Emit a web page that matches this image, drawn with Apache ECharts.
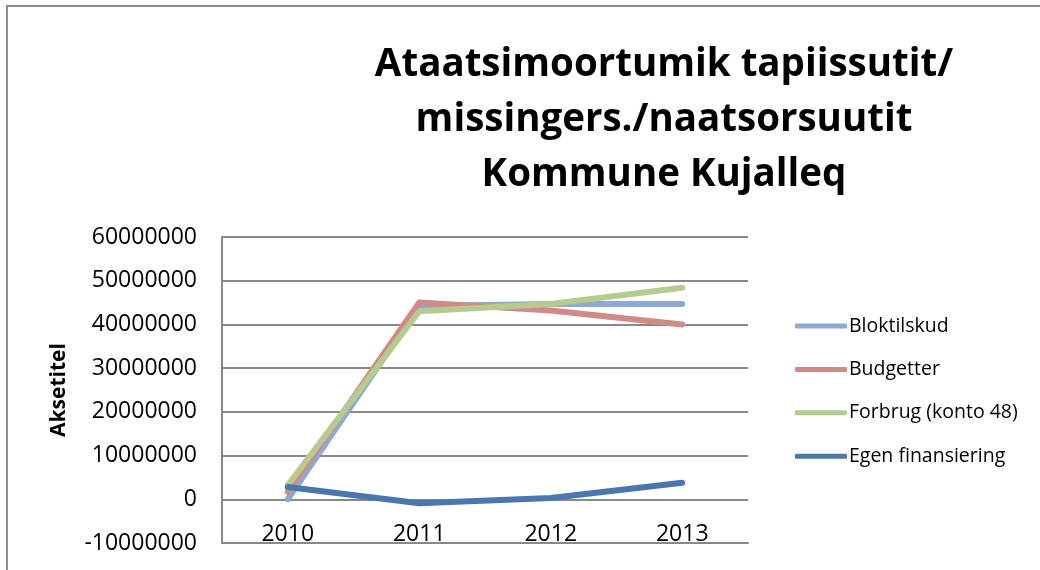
<!DOCTYPE html>
<html>
<head>
<meta charset="utf-8">
<script src="https://cdn.jsdelivr.net/npm/echarts@6/dist/echarts.min.js"></script>
<style>
  html, body { margin: 0; padding: 0; background: #ffffff; }
  #chart { width: 1040px; height: 570px; }
</style>
</head>
<body>
<div id="chart"></div>
<script>
var years = ['2010', '2011', '2012', '2013'];
var bloktilskud = [0, 44200000, 44700000, 44700000];
var budgetter = [1700000, 45000000, 43200000, 40000000];
var forbrug = [3200000, 43000000, 44700000, 48400000];
var egenFinansiering = [2800000, -900000, 300000, 3800000];
var yTicks = { min: -10000000, max: 60000000, step: 10000000 };

var chart = echarts.init(document.getElementById('chart'));

function makeLine(name, data, color) {
    return {
        name: name,
        type: 'line',
        data: data,
        symbol: 'none',
        lineStyle: { width: 6, color: color, cap: 'round', join: 'round' },
        itemStyle: { color: color }
    };
}

var option = {
    backgroundColor: '#ffffff',
    animation: false,
    textStyle: { fontFamily: 'Open Sans' },
    title: {
        text: 'Ataatsimoortumik tapiissutit/\nmissingers./naatsorsuutit\nKommune Kujalleq',
        left: 659,
        top: 33,
        textAlign: 'center',
        textStyle: {
            fontFamily: 'Open Sans',
            fontWeight: 'bold',
            fontSize: 38.5,
            lineHeight: 55,
            color: '#000000'
        }
    },
    graphic: [{
        type: 'rect',
        shape: { x: 7, y: 6, width: 1100, height: 600 },
        style: { fill: 'none', stroke: '#8c8c8c', lineWidth: 2 },
        silent: true
    }],
    legend: {
        orient: 'vertical',
        left: 790,
        top: 311,
        itemWidth: 52,
        itemHeight: 5,
        itemGap: 23.4,
        icon: 'roundRect',
        textStyle: { fontSize: 19.5, color: '#000000', lineHeight: 20, padding: [0, 0, 0, -3] },
        data: ['Bloktilskud', 'Budgetter', 'Forbrug (konto 48)', 'Egen finansiering']
    },
    grid: {
        left: 222,
        right: 292,
        top: 237,
        bottom: 27
    },
    xAxis: {
        type: 'category',
        data: years,
        boundaryGap: true,
        axisLine: { onZero: false, lineStyle: { color: '#888888', width: 2 } },
        axisTick: { show: false },
        axisLabel: { fontSize: 23, color: '#000000', margin: -20 }
    },
    yAxis: {
        type: 'value',
        min: yTicks.min,
        max: yTicks.max,
        interval: yTicks.step,
        name: 'Aksetitel',
        nameLocation: 'middle',
        nameGap: 152,
        nameTextStyle: { fontSize: 21, fontWeight: 'bold', color: '#000000' },
        axisLine: { show: true, lineStyle: { color: '#888888', width: 2 } },
        axisTick: { show: false },
        splitLine: { lineStyle: { color: '#888888', width: 2 } },
        axisLabel: {
            fontSize: 23,
            color: '#000000',
            margin: 25,
            formatter: function (v) { return String(v); }
        }
    },
    series: [
        makeLine('Bloktilskud', bloktilskud, '#8EA9D4'),
        makeLine('Budgetter', budgetter, '#D28A88'),
        makeLine('Forbrug (konto 48)', forbrug, '#B5CC8E'),
        makeLine('Egen finansiering', egenFinansiering, '#4A77B0')
    ]
};
chart.setOption(option);
</script>
</body>
</html>
